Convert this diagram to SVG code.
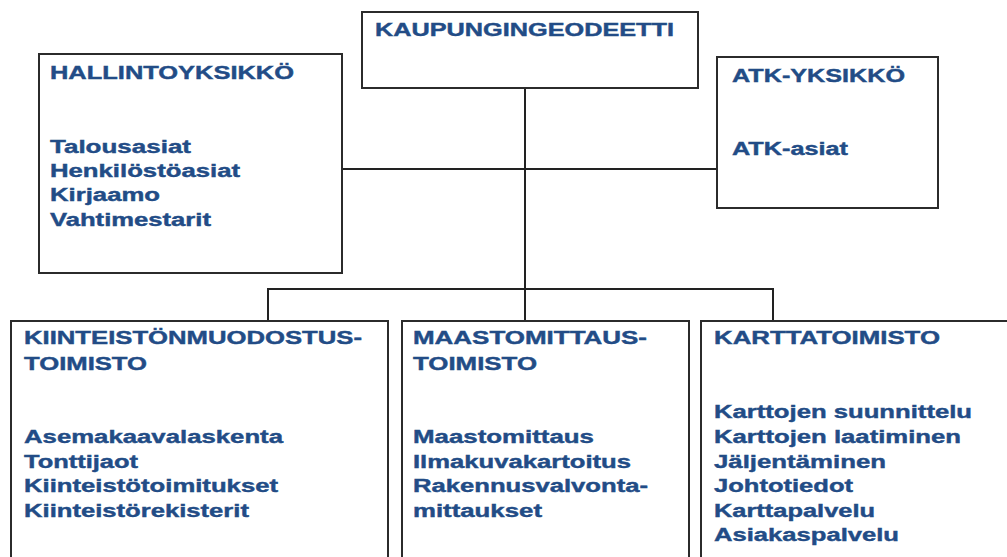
<svg xmlns="http://www.w3.org/2000/svg" width="1007" height="557" viewBox="0 0 1007 557">
  <style>
    .box { fill: #ffffff; stroke: #2b2b2b; stroke-width: 2; }
    .link { fill: none; stroke: #222222; stroke-width: 2; }
    .t { font-family: "Liberation Sans", Arial, sans-serif; font-weight: bold; font-size: 18px; fill: #224c86; stroke: #224c86; stroke-width: 0.4; }
  </style>
  <rect width="1007" height="557" fill="#ffffff"/>

  <!-- connectors -->
  <g id="connectors">
    <line class="link" x1="525" y1="88" x2="525" y2="321"/>
    <line class="link" x1="342" y1="169" x2="717" y2="169"/>
    <polyline class="link" points="268,321 268,289 773,289 773,321"/>
  </g>

  <g id="kaupungingeodeetti">
    <rect class="box" x="362" y="12" width="336" height="76"/>
    <text class="t" x="375" y="36" textLength="299" lengthAdjust="spacingAndGlyphs">KAUPUNGINGEODEETTI</text>
  </g>

  <g id="hallintoyksikko">
    <rect class="box" x="39" y="54" width="303" height="219"/>
    <text class="t" x="50" y="79" textLength="244" lengthAdjust="spacingAndGlyphs">HALLINTOYKSIKKÖ</text>
    <text class="t" x="50" y="153" textLength="141" lengthAdjust="spacingAndGlyphs">Talousasiat</text>
    <text class="t" x="50" y="177" textLength="190" lengthAdjust="spacingAndGlyphs">Henkilöstöasiat</text>
    <text class="t" x="50" y="201" textLength="110" lengthAdjust="spacingAndGlyphs">Kirjaamo</text>
    <text class="t" x="50" y="226" textLength="161" lengthAdjust="spacingAndGlyphs">Vahtimestarit</text>
  </g>

  <g id="atk-yksikko">
    <rect class="box" x="717" y="57" width="221" height="151"/>
    <text class="t" x="732" y="82" textLength="173" lengthAdjust="spacingAndGlyphs">ATK-YKSIKKÖ</text>
    <text class="t" x="732" y="155" textLength="116" lengthAdjust="spacingAndGlyphs">ATK-asiat</text>
  </g>

  <g id="kiinteistonmuodostustoimisto">
    <rect class="box" x="11" y="321" width="377" height="260"/>
    <text class="t" x="24" y="344" textLength="338" lengthAdjust="spacingAndGlyphs">KIINTEISTÖNMUODOSTUS-</text>
    <text class="t" x="24" y="370" textLength="123" lengthAdjust="spacingAndGlyphs">TOIMISTO</text>
    <text class="t" x="24" y="443" textLength="259" lengthAdjust="spacingAndGlyphs">Asemakaavalaskenta</text>
    <text class="t" x="24" y="468" textLength="114" lengthAdjust="spacingAndGlyphs">Tonttijaot</text>
    <text class="t" x="24" y="492" textLength="254" lengthAdjust="spacingAndGlyphs">Kiinteistötoimitukset</text>
    <text class="t" x="24" y="517" textLength="225" lengthAdjust="spacingAndGlyphs">Kiinteistörekisterit</text>
  </g>

  <g id="maastomittaustoimisto">
    <rect class="box" x="402" y="321" width="287" height="260"/>
    <text class="t" x="413" y="344" textLength="234" lengthAdjust="spacingAndGlyphs">MAASTOMITTAUS-</text>
    <text class="t" x="413" y="370" textLength="124" lengthAdjust="spacingAndGlyphs">TOIMISTO</text>
    <text class="t" x="413" y="443" textLength="181" lengthAdjust="spacingAndGlyphs">Maastomittaus</text>
    <text class="t" x="413" y="468" textLength="218" lengthAdjust="spacingAndGlyphs">Ilmakuvakartoitus</text>
    <text class="t" x="413" y="492" textLength="235" lengthAdjust="spacingAndGlyphs">Rakennusvalvonta-</text>
    <text class="t" x="413" y="517" textLength="129" lengthAdjust="spacingAndGlyphs">mittaukset</text>
  </g>

  <g id="karttatoimisto">
    <rect class="box" x="701" y="321" width="330" height="260"/>
    <text class="t" x="714" y="344" textLength="226" lengthAdjust="spacingAndGlyphs">KARTTATOIMISTO</text>
    <text class="t" x="714" y="418" textLength="258" lengthAdjust="spacingAndGlyphs">Karttojen suunnittelu</text>
    <text class="t" x="714" y="443" textLength="247" lengthAdjust="spacingAndGlyphs">Karttojen laatiminen</text>
    <text class="t" x="714" y="468" textLength="172" lengthAdjust="spacingAndGlyphs">Jäljentäminen</text>
    <text class="t" x="714" y="492" textLength="139" lengthAdjust="spacingAndGlyphs">Johtotiedot</text>
    <text class="t" x="714" y="517" textLength="161" lengthAdjust="spacingAndGlyphs">Karttapalvelu</text>
    <text class="t" x="714" y="541" textLength="185" lengthAdjust="spacingAndGlyphs">Asiakaspalvelu</text>
  </g>
</svg>
